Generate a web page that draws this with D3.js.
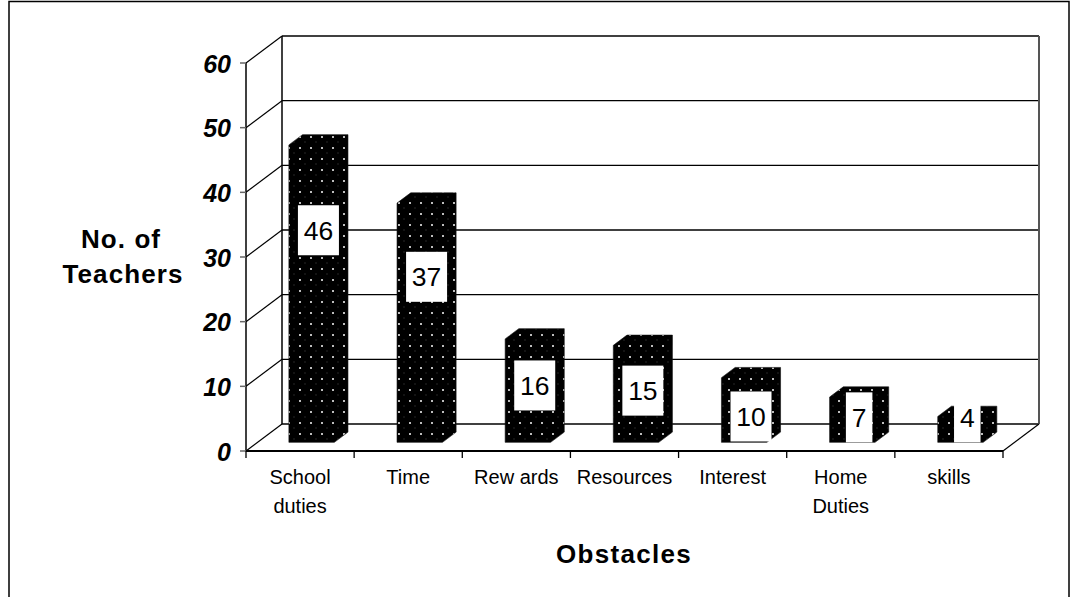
<!DOCTYPE html>
<html>
<head>
<meta charset="utf-8">
<script src="https://cdn.jsdelivr.net/npm/d3@7"></script>
<style>
  html, body { margin: 0; padding: 0; background: #fff; }
  svg { display: block; }
  text { font-family: "Liberation Sans", Arial, sans-serif; }
</style>
</head>
<body>
<svg id="chart" width="1071" height="597"></svg>
<script>
// Obstacles reported by teachers
const categories = [["School", "duties"], ["Time"], ["Rew ards"], ["Resources"], ["Interest"], ["Home", "Duties"], ["skills"]];
const counts = [46, 37, 16, 15, 10, 7, 4];
const yTicks = [0, 10, 20, 30, 40, 50, 60];

(function () {
const svg = d3.select("#chart");

// plot geometry (front plane) and oblique depth of the 3D box
const plotLeft = 246, plotRight = 1003, plotFloor = 451, plotTop = 63;
const depthX = 36, depthY = -27;
const off = t => [depthX * t, depthY * t];

const x = d3.scaleBand().domain(d3.range(categories.length)).range([plotLeft, plotRight]).padding(0);
const y = d3.scaleLinear().domain([0, 60]).range([plotFloor, plotTop]);

// outer frame
svg.append("rect").attr("x", 9).attr("y", 1.5).attr("width", 1060).attr("height", 620)
  .attr("fill", "none").attr("stroke", "#000").attr("stroke-width", 1.5);

const [bx, by] = off(1);

// back wall gridlines
svg.append("g").selectAll("line").data(yTicks).join("line")
  .attr("x1", plotLeft + bx).attr("x2", plotRight + bx)
  .attr("y1", d => y(d) + by).attr("y2", d => y(d) + by)
  .attr("stroke", "#000").attr("stroke-width", 1.3);

// side wall diagonals
svg.append("g").selectAll("line").data(yTicks).join("line")
  .attr("x1", plotLeft).attr("x2", plotLeft + bx)
  .attr("y1", d => y(d)).attr("y2", d => y(d) + by)
  .attr("stroke", "#000").attr("stroke-width", 1.2);

// wall edges
svg.append("line").attr("x1", plotLeft + bx).attr("x2", plotLeft + bx)
  .attr("y1", y(60) + by).attr("y2", y(0) + by).attr("stroke", "#000").attr("stroke-width", 1.5);
svg.append("line").attr("x1", plotRight + bx).attr("x2", plotRight + bx)
  .attr("y1", y(60) + by).attr("y2", y(0) + by).attr("stroke", "#555").attr("stroke-width", 2);
// floor right edge
svg.append("line").attr("x1", plotRight).attr("x2", plotRight + bx)
  .attr("y1", plotFloor).attr("y2", plotFloor + by).attr("stroke", "#000").attr("stroke-width", 1.2);

// dotted fill for the columns
const defs = svg.append("defs");
const pat = defs.append("pattern").attr("id", "dots").attr("patternUnits", "userSpaceOnUse")
  .attr("width", 11).attr("height", 11).attr("x", 1).attr("y", 3);
pat.append("rect").attr("width", 11).attr("height", 11).attr("fill", "#000");
pat.append("rect").attr("x", 1).attr("y", 1).attr("width", 2).attr("height", 2).attr("fill", "#bdbdbd");
pat.append("rect").attr("x", 6.5).attr("y", 6.5).attr("width", 1).attr("height", 1).attr("fill", "#4a4a4a");

// columns
const t0 = 0.32, t1 = 0.70, barFrac = 0.42;
const [fx, fy] = off(t0);
const [kx, ky] = off(t1);
const dX = kx - fx, dY = ky - fy;
const bw = x.bandwidth() * barFrac;

const bars = svg.append("g").selectAll("g").data(counts).join("g");
bars.append("path")
  .attr("d", (v, i) => {
    const cx = x(i) + x.bandwidth() / 2 + fx;
    const x0 = cx - bw / 2, x1 = cx + bw / 2;
    const yb = y(0) + fy, yTopFace = y(v) + fy;
    return `M${x0},${yb}L${x0},${yTopFace}L${x0 + dX},${yTopFace + dY}L${x1 + dX},${yTopFace + dY}L${x1 + dX},${yb + dY}L${x1},${yb}Z`;
  })
  .attr("fill", "url(#dots)").attr("stroke", "#111").attr("stroke-width", 0.6);

// value labels, kept inside the column and above its base
const tm = (t0 + t1) / 2;
const [mx] = off(tm);
const boxH = 50;
const labels = svg.append("g").selectAll("g").data(counts).join("g")
  .attr("transform", (v, i) => {
    const cx = x(i) + x.bandwidth() / 2 + mx;
    const base = y(0) + fy;
    const cy = Math.min(y(v * 0.8 - 4) + fy, base - boxH / 2);
    return `translate(${cx},${cy})`;
  });
labels.append("rect")
  .attr("x", v => -(String(v).length * 14.5 + 12) / 2)
  .attr("width", v => String(v).length * 14.5 + 12)
  .attr("y", -boxH / 2).attr("height", boxH).attr("fill", "#fff");
labels.append("text").attr("text-anchor", "middle").attr("y", 9.5)
  .attr("font-size", 26.5).attr("fill", "#000").text(v => v);

// front axis line and floor front edge
svg.append("line").attr("x1", plotLeft).attr("x2", plotLeft).attr("y1", plotTop).attr("y2", plotFloor)
  .attr("stroke", "#000").attr("stroke-width", 1.5);
svg.append("line").attr("x1", plotLeft).attr("x2", plotRight).attr("y1", plotFloor).attr("y2", plotFloor)
  .attr("stroke", "#000").attr("stroke-width", 2.2);

// value axis ticks and labels
const yAxis = svg.append("g");
yAxis.selectAll("line").data(yTicks).join("line")
  .attr("x1", plotLeft - 6).attr("x2", plotLeft).attr("y1", d => y(d)).attr("y2", d => y(d))
  .attr("stroke", "#666").attr("stroke-width", 1.5);
yAxis.selectAll("text").data(yTicks).join("text")
  .attr("x", 231).attr("y", d => y(d) + 9.5).attr("text-anchor", "end")
  .attr("font-size", 25).attr("font-weight", "bold").attr("font-style", "italic")
  .text(d => d);

// category ticks
svg.append("g").selectAll("line").data(d3.range(categories.length + 1)).join("line")
  .attr("x1", i => plotLeft + i * x.bandwidth()).attr("x2", i => plotLeft + i * x.bandwidth())
  .attr("y1", plotFloor).attr("y2", plotFloor + 7).attr("stroke", "#000").attr("stroke-width", 1.3);

// category labels
svg.append("g").selectAll("text").data(categories).join("text")
  .attr("x", (d, i) => x(i) + x.bandwidth() / 2).attr("y", 484)
  .attr("text-anchor", "middle").attr("font-size", 20)
  .each(function (d) {
    const cx = d3.select(this).attr("x");
    d3.select(this).selectAll("tspan").data(d).join("tspan")
      .attr("x", cx)
      .attr("dy", (s, j) => j === 0 ? 0 : 29)
      .text(s => s);
  });

// axis titles
svg.append("text").attr("x", 624).attr("y", 563).attr("text-anchor", "middle")
  .attr("font-size", 26).attr("font-weight", "bold").attr("letter-spacing", 1.3)
  .text("Obstacles");
const yTitle = svg.append("text").attr("text-anchor", "middle")
  .attr("font-size", 26).attr("font-weight", "bold").attr("letter-spacing", 1.1);
yTitle.append("tspan").attr("x", 121).attr("y", 248).text("No. of");
yTitle.append("tspan").attr("x", 123).attr("y", 283).text("Teachers");
})();
</script>
</body>
</html>
